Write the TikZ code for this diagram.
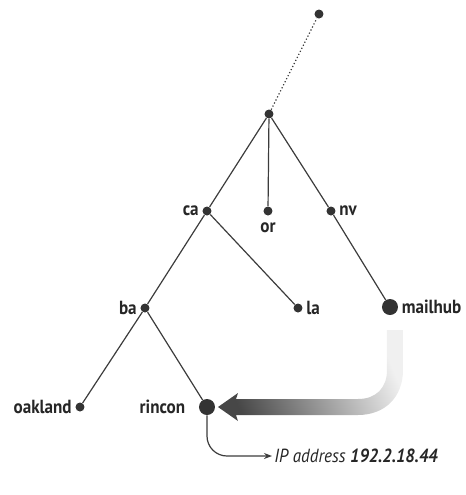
\documentclass[tikz,border=0pt]{standalone}
\usepackage{fontspec}
\setmainfont{PT Sans}[FakeStretch=0.9]
\usepackage{xcolor}
\usetikzlibrary{arrows.meta,shadings}
\definecolor{dotgray}{HTML}{333333}
\definecolor{linegray}{HTML}{3C3C3C}

\begin{document}
\begin{tikzpicture}[x=0.5pt, y=-0.5pt,
    dot/.style={circle, fill=dotgray, inner sep=0pt, minimum size=4.5pt},
    host/.style={dot, minimum size=8pt},
    dnslabel/.style={font=\fontsize{9.5}{11}\selectfont\bfseries, text=black!85, inner sep=1.5pt},
    link/.style={draw=linegray, line width=0.6pt}
]
    \useasboundingbox (0,0) rectangle (466,495);

    % Domains
    \node[dot] (top) at (319,14) {};
    \node[dot] (root) at (269,114) {};
    \node[dot, label={[dnslabel]left:ca}] (ca) at (207,211) {};
    \node[dot, label={[dnslabel, label distance=1.5pt]below:or}] (or) at (268,211) {};
    \node[dot, label={[dnslabel]right:nv}] (nv) at (331,211) {};
    \node[dot, label={[dnslabel]left:ba}] (ba) at (145,308) {};
    \node[dot, label={[dnslabel]right:la}] (la) at (298,308) {};
    \node[host, label={[dnslabel]right:mailhub}] (mailhub) at (390,307) {};
    \node[dot, label={[dnslabel]left:oakland}] (oakland) at (80,407) {};
    \node[host, label={[dnslabel, label distance=5pt]left:rincon}] (rincon) at (207,407) {};

    % Tree
    \draw[link, dash pattern=on 0.6pt off 1.1pt] (root) -- (top);
    \draw[link] (root) -- (ca);
    \draw[link] (root) -- (or);
    \draw[link] (root) -- (nv);
    \draw[link] (ca) -- (ba);
    \draw[link] (ca) -- (la);
    \draw[link] (nv) -- (mailhub);
    \draw[link] (ba) -- (oakland);
    \draw[link] (ba) -- (rincon);

    % Lookup from mailhub to rincon
    \shade[top color=black!6, bottom color=black!72, shading angle=-67]
        (387,330) -- (403,330) -- (403,370)
        .. controls (403,397) and (385,415) .. (358,415)
        -- (236,415) -- (238,421) -- (218,407) -- (238,393) -- (236,399)
        -- (358,399) .. controls (376,399) and (387,388) .. (387,370) -- cycle;

    % Address
    \node[anchor=west, font=\fontsize{9.5}{11}\selectfont\itshape, text=black!85, inner sep=1pt] (ip) at (272,456)
        {IP address \textbf{192.2.18.44}};
    \draw[link, rounded corners=10pt, -{Stealth[length=4pt, width=3pt]}] (rincon.south) |- (ip.west);
\end{tikzpicture}
\end{document}
